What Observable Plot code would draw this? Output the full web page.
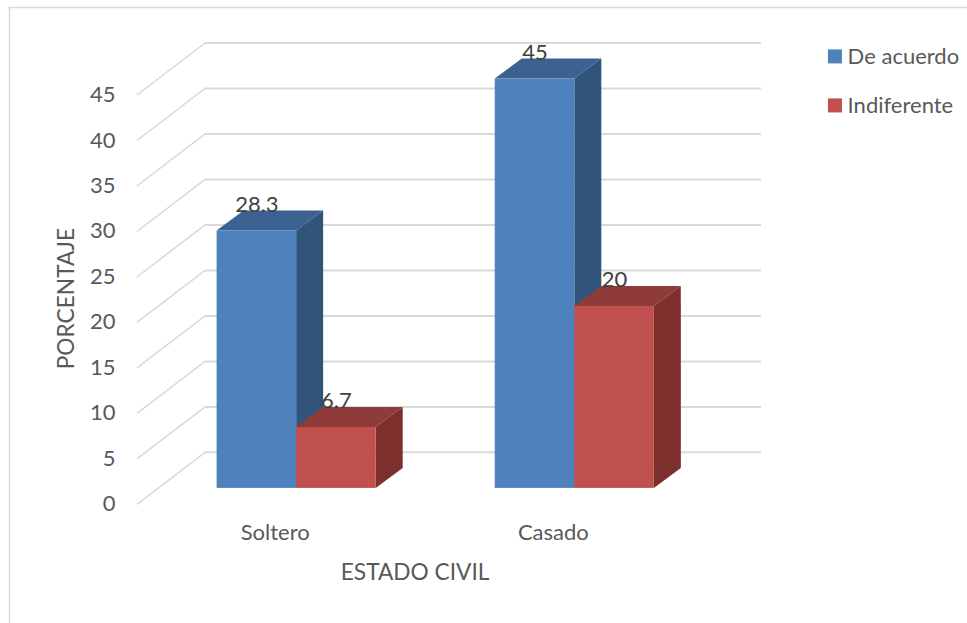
<!DOCTYPE html>
<html lang="es">
<head>
<meta charset="utf-8">
<title>Estado civil</title>
<script src="https://cdn.jsdelivr.net/npm/d3@7"></script>
<script src="https://cdn.jsdelivr.net/npm/@observablehq/plot@0.6"></script>
<style>
  html, body { margin: 0; padding: 0; background: #fff; }
  svg { display: block; }
</style>
</head>
<body>
<div id="chart"></div>
<script>
// Values per marital status
const categories = ["Soltero", "Casado"];
const deAcuerdo = [28.3, 45];
const indiferente = [6.7, 20];
const seriesNames = ["De acuerdo", "Indiferente"];
const tickValues = [0, 5, 10, 15, 20, 25, 30, 35, 40, 45];

// Shades of each series: front, top and side faces of a prism
const shades = {
  "De acuerdo": {front: "#4f81bd", top: "#3c6291", side: "#31547b"},
  "Indiferente": {front: "#c0504d", top: "#8f3b39", side: "#7c2f2d"}
};

// Pseudo-3D geometry in scale units: x counts categories along the back wall, y is percent
const barWidth = 0.286;
const barStart = 0.0432;
const depthX = 0.097;
const depthY = 2.2;
const floorY = -3.96;
const sideX = -0.245;
const sideY = -5.72;

const rows = (values, name, slot) => values.map((value, i) => {
  const x1 = i + barStart + slot * barWidth;
  return {id: `${name}-${i}`, name, value, x1, x2: x1 + barWidth, top: value + floorY};
});
const blueBars = rows(deAcuerdo, seriesNames[0], 0);
const redBars = rows(indiferente, seriesNames[1], 1);

// Each face becomes a two-point band so the area marks can shear it
const topFace = bars => bars.flatMap(b => [
  {...b, a: b.x1, c: b.x2, y: b.top},
  {...b, a: b.x1 + depthX, c: b.x2 + depthX, y: b.top + depthY}
]);
const sideFace = bars => bars.flatMap(b => [
  {...b, x: b.x2, lo: floorY, hi: b.top},
  {...b, x: b.x2 + depthX, lo: floorY + depthY, hi: b.top + depthY}
]);
const prism = bars => [
  Plot.areaX(topFace(bars), {x1: "a", x2: "c", y: "y", z: "id", fill: d => shades[d.name].top}),
  Plot.areaY(sideFace(bars), {x: "x", y1: "lo", y2: "hi", z: "id", fill: d => shades[d.name].side}),
  Plot.rect(bars, {x1: "x1", x2: "x2", y1: floorY, y2: "top", fill: d => shades[d.name].front})
];

const textColor = "#595959";
const labelFont = {fontSize: 22, fill: textColor};
const titleFont = {fontSize: 22.7, fill: textColor};
const allBars = [...blueBars, ...redBars];

const chart = Plot.plot({
  width: 967,
  height: 623,
  marginLeft: 9,
  marginTop: 7,
  marginRight: 0,
  marginBottom: 0,
  style: {fontFamily: "Lato, 'Open Sans', sans-serif", background: "#fff"},
  color: {type: "identity"},
  x: {domain: [-0.7032, 2.741], axis: null},
  y: {domain: [-18.81, 48.9], axis: null},
  marks: [
    // Chart area outline, top and left only
    Plot.frame({anchor: "top", stroke: "#d9d9d9", strokeWidth: 1.5}),
    Plot.frame({anchor: "left", stroke: "#d9d9d9", strokeWidth: 1.5}),

    // Back wall and side wall gridlines
    Plot.ruleY(tickValues, {x1: 0, x2: 2, stroke: "#d9d9d9", strokeWidth: 2}),
    Plot.link(tickValues, {x1: 0, y1: d => d, x2: sideX, y2: d => d + sideY, stroke: "#d9d9d9", strokeWidth: 1.5}),

    Plot.axisY({
      anchor: "left",
      ticks: tickValues,
      tickSize: 0,
      tickPadding: 0,
      dx: 106,
      dy: 52,
      fontSize: 22,
      fill: textColor,
      label: null
    }),

    ...prism(blueBars),
    ...prism(redBars),

    // Value labels sit over the back edge of each bar's top
    Plot.text(allBars, {
      x: d => (d.x1 + d.x2) / 2,
      y: d => d.top + depthY,
      text: d => String(d.value),
      dy: -6,
      fontSize: 22,
      fill: "#404040"
    }),

    // Category labels and axis titles
    Plot.text(categories, {x: (d, i) => i + 0.252, y: -8.9, text: d => d, ...labelFont}),
    Plot.text(["ESTADO CIVIL"], {x: 0.755, y: -13.2, text: d => d, ...titleFont}),
    Plot.text(["PORCENTAJE"], {x: -0.497, y: 16.9, text: d => d, rotate: -90, ...titleFont}),

    // Legend
    Plot.rect(seriesNames, {
      x1: 2.241,
      x2: 2.2914,
      y1: (d, i) => 42.7 - i * 5.39,
      y2: (d, i) => 44.24 - i * 5.39,
      fill: d => shades[d].front
    }),
    Plot.text(seriesNames, {
      x: 2.31,
      y: (d, i) => 43.45 - i * 5.39,
      text: d => d,
      textAnchor: "start",
      ...labelFont
    })
  ]
});
document.getElementById("chart").append(chart);
</script>
</body>
</html>
